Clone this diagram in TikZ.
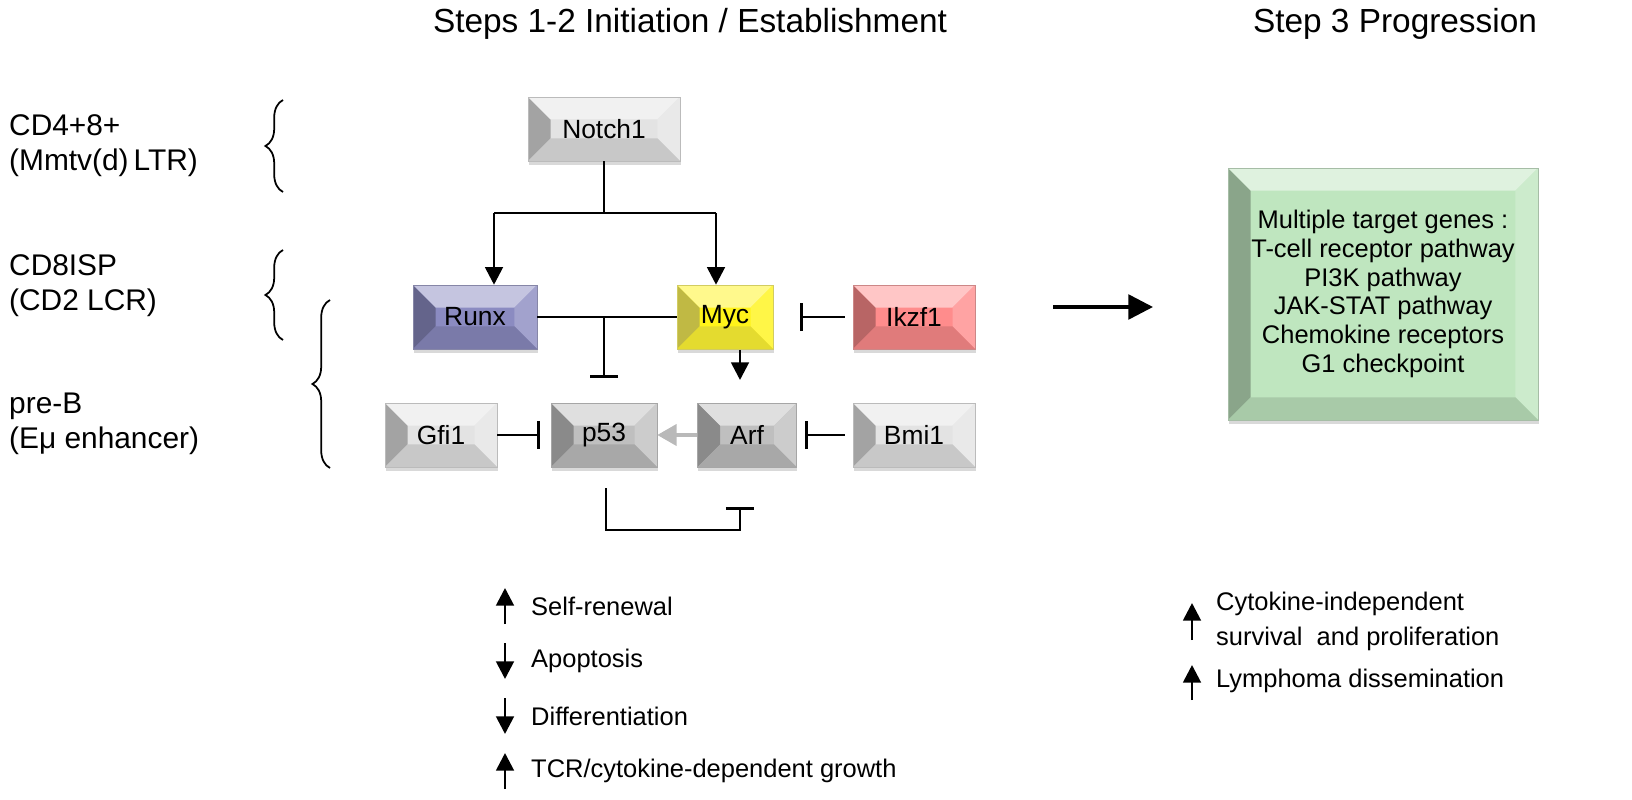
\documentclass[tikz,border=0pt]{standalone}
\usepackage{fontspec}
\setmainfont{Liberation Sans}
\usetikzlibrary{arrows.meta,calc,decorations.pathreplacing,shadows}
\begin{document}
\begin{tikzpicture}[x=0.02cm,y=-0.02cm,
  bev/.style={draw=#1!60!gray,line width=0.3pt,fill=#1,minimum height=1.28cm,font=\fontsize{15}{18}\selectfont,
    drop shadow={shadow xshift=0.5pt,shadow yshift=-2.5pt,opacity=0.3},
    path picture={
      \coordinate (NW) at (path picture bounding box.north west);
      \coordinate (NE) at (path picture bounding box.north east);
      \coordinate (SW) at (path picture bounding box.south west);
      \coordinate (SE) at (path picture bounding box.south east);
      \coordinate (nw) at ($(NW)+(0.45cm,-0.45cm)$);
      \coordinate (ne) at ($(NE)+(-0.45cm,-0.45cm)$);
      \coordinate (sw) at ($(SW)+(0.45cm,0.45cm)$);
      \coordinate (se) at ($(SE)+(-0.45cm,0.45cm)$);
      \fill[#1!72!black] (NW)--(nw)--(sw)--(SW)--cycle;
      \fill[#1!50!white] (NW)--(NE)--(ne)--(nw)--cycle;
      \fill[#1!80!white] (NE)--(SE)--(se)--(ne)--cycle;
      \fill[#1!88!black] (SW)--(SE)--(se)--(sw)--cycle;
    }},
  act/.style={line width=1.6pt,-{Triangle[length=10pt,width=10pt]}},
  inh/.style={line width=1.6pt,-{Bar[width=16pt]}},
  lbl/.style={font=\fontsize{17}{20}\selectfont,align=left,anchor=west},
  lst/.style={font=\fontsize{14.5}{20}\selectfont,anchor=west},
  br/.style={decorate,decoration={brace,amplitude=10pt,mirror},line width=1pt}]
\useasboundingbox (0,0) rectangle (1632,800);
\colorlet{gr}{gray!22}
\colorlet{dg}{gray!50}
\colorlet{bl}{blue!30!gray!70!white}
\colorlet{ye}{yellow!90!white}
\colorlet{rd}{red!45!white}
\colorlet{gn}{green!60!black!25!white}
% titles
\node[font=\fontsize{19}{22}\selectfont] (t1) at (690,24) {Steps 1-2 Initiation / Establishment};
\node[font=\fontsize{19}{22}\selectfont] (t2) at (1395,24) {Step 3 Progression};
% left labels
\node[lbl] (l1) at (3,146) {CD4+8+\\(Mmtv(d)\,LTR)};
\node[lbl] (l2) at (3,286) {CD8ISP\\(CD2 LCR)};
\node[lbl] (l3) at (3,424) {pre-B\\(Eμ enhancer)};
\coordinate (b1a) at (283,100); \coordinate (b1b) at (283,192);
\coordinate (b2a) at (283,250); \coordinate (b2b) at (283,340);
\coordinate (b3a) at (330,300); \coordinate (b3b) at (330,468);
\draw[br] (b1a) -- (b1b);
\draw[br] (b2a) -- (b2b);
\draw[br] (b3a) -- (b3b);
% boxes
\node[bev=gr,minimum width=3.04cm] (notch) at (604,129) {Notch1};
\node[bev=bl,minimum width=2.48cm] (runx) at (475,317) {Runx};
\node[bev=ye,minimum width=1.92cm] (myc) at (725,317) {Myc};
\node[bev=rd,minimum width=2.44cm] (ikzf) at (914,317) {Ikzf1};
\node[bev=gr,minimum width=2.24cm] (gfi) at (441,435) {Gfi1};
\node[bev=dg,minimum width=2.12cm] (p53) at (604,435) {p53};
\node[bev=dg,minimum width=1.98cm] (arf) at (747,435) {Arf};
\node[bev=gr,minimum width=2.44cm] (bmi) at (914,435) {Bmi1};
\node[bev=gn,minimum width=6.2cm,minimum height=5.04cm,align=center,
  font=\fontsize{14.5}{16.3}\selectfont] (green) at (1383,294)
  {Multiple target genes :\\T-cell receptor pathway\\PI3K pathway\\JAK-STAT pathway\\Chemokine receptors\\G1 checkpoint};
% connectors
\coordinate (j1) at (604,213);
\coordinate (j1l) at (494,213);
\coordinate (j1r) at (716,213);
\draw[line width=1.6pt] (notch.south) -- (j1);
\draw[line width=1.6pt] (j1l) -- (j1r);
\draw[act] (j1l) -- (j1l |- runx.north);
\draw[act] (j1r) -- (j1r |- myc.north);
\draw[line width=1.6pt] (runx.east) -- (myc.west);
\coordinate (j2) at (604,317);
\coordinate (j2b) at (604,378);
\draw[inh] (j2) -- (j2b);
\coordinate (m1) at (740,350);
\coordinate (m2) at (740,380);
\draw[act] (m1) -- (m2);
\coordinate (ik) at (800,317);
\draw[inh] (ikzf.west) ++(-8,0) -- (ik);
\coordinate (gp) at (540,435);
\draw[inh] (gfi.east) -- (gp);
\draw[line width=2pt,gray!55,-{Triangle[length=11pt,width=12pt]}] (arf.west) -- (p53.east);
\coordinate (ba) at (805,435);
\draw[inh] (bmi.west) ++(-8,0) -- (ba);
\coordinate (q1) at (606,488);
\coordinate (q2) at (606,530);
\coordinate (q3) at (740,530);
\coordinate (q4) at (740,507);
\draw[inh] (q1) -- (q2) -- (q3) -- (q4);
\coordinate (ba1) at (1053,307);
\coordinate (ba2) at (1153,307);
\draw[act,line width=2pt,-{Triangle[length=14pt,width=14pt]}] (ba1) -- (ba2);
% bottom list
\coordinate (a1) at (505,588); \coordinate (b1) at (505,624);
\draw[act] (b1) -- (a1);
\node[lst] (s1) at (525,606) {Self-renewal};
\coordinate (a2) at (505,643); \coordinate (b2) at (505,679);
\draw[act] (a2) -- (b2);
\node[lst] (s2) at (525,661) {Apoptosis};
\coordinate (a3) at (505,698); \coordinate (b3) at (505,734);
\draw[act] (a3) -- (b3);
\node[lst] (s3) at (525,716) {Differentiation};
\coordinate (a4) at (505,753); \coordinate (b4) at (505,789);
\draw[act] (b4) -- (a4);
\node[lst] (s4) at (525,771) {TCR/cytokine-dependent growth};
\coordinate (r1a) at (1192,603); \coordinate (r1b) at (1192,640);
\draw[act] (r1b) -- (r1a);
\node[lst,align=left] (r1) at (1210,621) {Cytokine-independent\\survival\ \ and proliferation};
\coordinate (r2a) at (1192,665); \coordinate (r2b) at (1192,700);
\draw[act] (r2b) -- (r2a);
\node[lst] (r2) at (1210,681) {Lymphoma dissemination};
\end{tikzpicture}
\end{document}
